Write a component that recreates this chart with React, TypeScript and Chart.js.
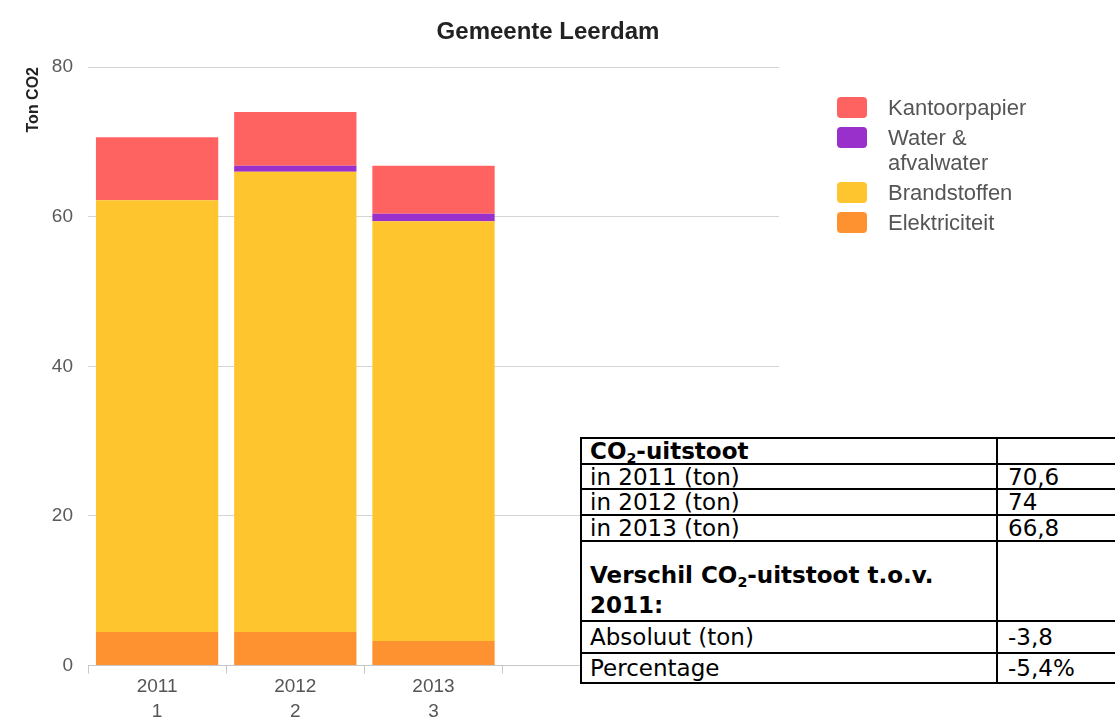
import React, { useEffect, useRef } from 'react';
import { Chart, registerables } from 'chart.js';

Chart.register(...registerables);

// ---- data ----
const categories: (string | string[])[] = [['2011', '1'], ['2012', '2'], ['2013', '3'], '', ''];
const elektriciteit = [4.5, 4.5, 3.3, null, null];
const brandstoffen = [57.7, 61.5, 56.1, null, null];
const waterAfvalwater = [0, 0.8, 1.0, null, null];
const kantoorpapier = [8.4, 7.2, 6.4, null, null];

const yMin = 0;
const yMax = 80;
const yStep = 20;

const chartTitle = 'Gemeente Leerdam';
const yAxisTitle = 'Ton CO2';

const seriesLabels = ['Elektriciteit', 'Brandstoffen', 'Water & afvalwater', 'Kantoorpapier'];
const seriesColors = ['#fe9230', '#fec52f', '#9a30cc', '#fe6361'];

const legendLabels = [['Kantoorpapier'], ['Water &', 'afvalwater'], ['Brandstoffen'], ['Elektriciteit']];
const legendColors = ['#fe6361', '#9a30cc', '#fec52f', '#fe9230'];

const tableLabels = [
  'CO₂-uitstoot',
  'in 2011 (ton)',
  'in 2012 (ton)',
  'in 2013 (ton)',
  'Verschil CO₂-uitstoot t.o.v.|2011:',
  'Absoluut (ton)',
  'Percentage',
];
const tableValues = ['', '70,6', '74', '66,8', '', '-3,8', '-5,4%'];
const tableBold = [true, false, false, false, true, false, false];

// ---- rendering ----
const rowHeights = [26, 25, 26, 26, 80, 32, 30];

function renderLabel(text: string) {
  const lines = text.split('|');
  return lines.map((line, li) => {
    const parts = line.split('₂');
    return (
      <React.Fragment key={li}>
        {li > 0 && <br />}
        {parts.map((p, i) => (
          <React.Fragment key={i}>
            {i > 0 && (
              <sub style={{ fontSize: '0.62em', verticalAlign: '-0.3em', lineHeight: 0 }}>2</sub>
            )}
            {p}
          </React.Fragment>
        ))}
      </React.Fragment>
    );
  });
}

export default function App() {
  const canvasRef = useRef<HTMLCanvasElement | null>(null);

  useEffect(() => {
    const canvas = canvasRef.current;
    if (!canvas) return;
    const seriesData = [elektriciteit, brandstoffen, waterAfvalwater, kantoorpapier];
    const chart = new Chart(canvas, {
      type: 'bar',
      data: {
        labels: categories,
        datasets: seriesData.map((d, i) => ({
          label: seriesLabels[i],
          data: d,
          backgroundColor: seriesColors[i],
          borderWidth: 0,
          barPercentage: 0.885,
          categoryPercentage: 1,
        })),
      },
      options: {
        animation: false,
        responsive: false,
        maintainAspectRatio: false,
        devicePixelRatio: 1,
        layout: { padding: { left: 19, right: 336, top: 67, bottom: 0 } },
        plugins: {
          legend: { display: false },
          title: { display: false },
          tooltip: { enabled: false },
        },
        scales: {
          x: {
            stacked: true,
            grid: {
              offset: true,
              drawOnChartArea: false,
              drawTicks: true,
              tickLength: 8,
              color: '#c8c8c8',
            },
            border: { display: true, color: '#c8c8c8' },
            ticks: {
              autoSkip: false,
              maxRotation: 0,
              padding: 1,
              color: '#555555',
              font: { family: 'Liberation Sans, Arial, sans-serif', size: 19, lineHeight: 1.3 },
            },
          },
          y: {
            stacked: true,
            min: yMin,
            max: yMax,
            grid: { color: '#d4d4d4', drawTicks: false },
            border: { display: false },
            ticks: {
              stepSize: yStep,
              padding: 15,
              color: '#5a5a5a',
              font: { family: 'Liberation Sans, Arial, sans-serif', size: 19 },
            },
            title: {
              display: true,
              text: yAxisTitle,
              align: 'end',
              color: '#222222',
              padding: { top: 5, bottom: 4 },
              font: { family: 'Liberation Sans, Arial, sans-serif', size: 16, weight: 'bold' },
            },
            afterFit: (scale: any) => {
              scale.width = 69;
            },
          },
        },
      },
    });
    return () => chart.destroy();
  }, []);

  return (
    <div
      style={{
        position: 'fixed',
        left: 0,
        top: 0,
        width: 1115,
        height: 720,
        overflow: 'hidden',
        background: '#ffffff',
      }}
    >
      <canvas
        ref={canvasRef}
        width={1115}
        height={725}
        style={{ position: 'absolute', left: 0, top: 0, width: 1115, height: 725 }}
      />
      <div
        style={{
          position: 'absolute',
          left: 0,
          top: 17,
          width: 1096,
          textAlign: 'center',
          fontFamily: 'Liberation Sans, Arial, sans-serif',
          fontWeight: 'bold',
          fontSize: 24,
          lineHeight: '28px',
          color: '#222222',
        }}
      >
        {chartTitle}
      </div>
      <div style={{ position: 'absolute', left: 837, top: 95 }}>
        {legendLabels.map((lines, i) => (
          <div key={i} style={{ position: 'relative', height: lines.length * 25 + 5 }}>
            <div
              style={{
                position: 'absolute',
                left: 0,
                top: 2,
                width: 30,
                height: 21,
                borderRadius: 4,
                background: legendColors[i],
              }}
            />
            <div
              style={{
                position: 'absolute',
                left: 51,
                top: 0,
                whiteSpace: 'nowrap',
                fontFamily: 'Liberation Sans, Arial, sans-serif',
                fontSize: 22,
                lineHeight: '25px',
                color: '#555555',
              }}
            >
              {lines.map((l, j) => (
                <div key={j}>{l}</div>
              ))}
            </div>
          </div>
        ))}
      </div>
      <table
        style={{
          position: 'absolute',
          left: 580,
          top: 437,
          width: 540,
          borderCollapse: 'collapse',
          background: '#ffffff',
          fontFamily: 'DejaVu Sans, Verdana, sans-serif',
          fontSize: 23,
          color: '#000000',
          tableLayout: 'fixed',
        }}
      >
        <colgroup>
          <col style={{ width: 416 }} />
          <col style={{ width: 124 }} />
        </colgroup>
        <tbody>
          {tableLabels.map((label, i) => (
            <tr key={i} style={{ height: rowHeights[i] }}>
              <td
                style={{
                  border: '2px solid #000',
                  padding: '0 8px',
                  fontWeight: tableBold[i] ? 'bold' : 'normal',
                  lineHeight: label.includes('|') ? '30px' : '22px',
                  verticalAlign: label.includes('|') ? 'bottom' : 'middle',
                  whiteSpace: 'nowrap',
                }}
              >
                {renderLabel(label)}
              </td>
              <td
                style={{
                  border: '2px solid #000',
                  padding: '0 10px',
                  lineHeight: '22px',
                  verticalAlign: 'middle',
                }}
              >
                {tableValues[i]}
              </td>
            </tr>
          ))}
        </tbody>
      </table>
    </div>
  );
}
